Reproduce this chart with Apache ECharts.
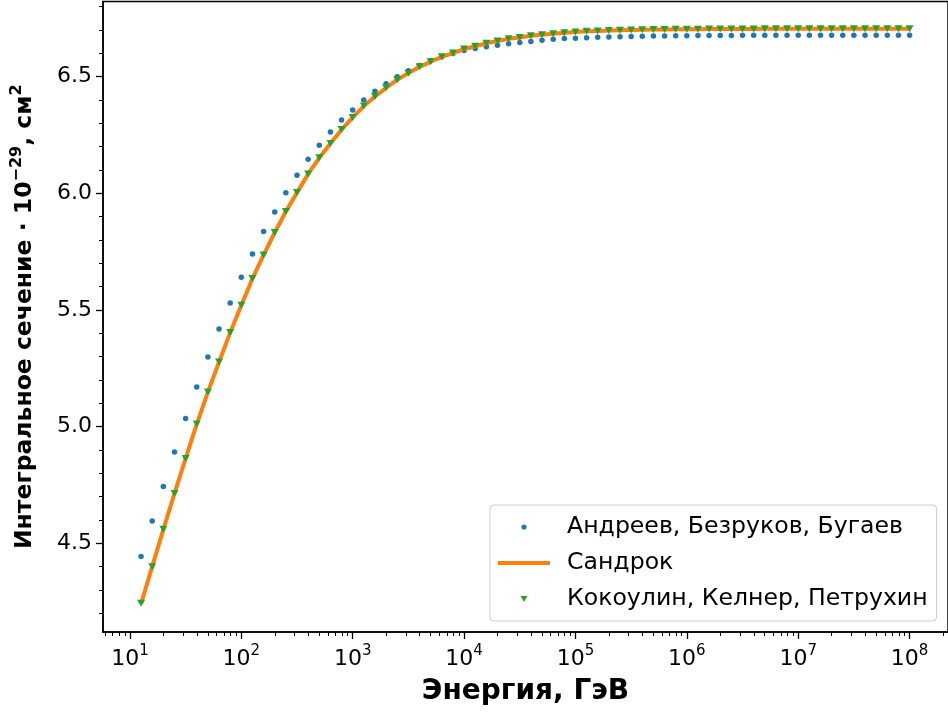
<!DOCTYPE html>
<html>
<head>
<meta charset="utf-8">
<script src="https://cdn.jsdelivr.net/npm/echarts@6/dist/echarts.min.js"></script>
<style>
html,body{margin:0;padding:0;background:#fff;}
#chart{width:948px;height:718px;}
</style>
</head>
<body>
<div id="chart"></div>
<script>
// Energies, GeV (10 points per decade)
var energy = [
  12.59, 15.85, 19.95, 25.12, 31.62, 39.81, 50.12, 63.10, 79.43, 100,
  125.9, 158.5, 199.5, 251.2, 316.2, 398.1, 501.2, 631.0, 794.3, 1000,
  1259, 1585, 1995, 2512, 3162, 3981, 5012, 6310, 7943, 10000,
  12590, 15850, 19950, 25120, 31620, 39810, 50120, 63100, 79430, 100000,
  125900, 158500, 199500, 251200, 316200, 398100, 501200, 631000, 794300, 1000000,
  1259000, 1585000, 1995000, 2512000, 3162000, 3981000, 5012000, 6310000, 7943000, 10000000,
  12590000, 15850000, 19950000, 25120000, 31620000, 39810000, 50120000, 63100000, 79430000, 100000000
];
// Андреев, Безруков, Бугаев
var abb = [
  4.444, 4.596, 4.744, 4.891, 5.035, 5.170, 5.299, 5.419, 5.530, 5.640,
  5.740, 5.836, 5.920, 6.002, 6.077, 6.146, 6.206, 6.263, 6.314, 6.357,
  6.400, 6.437, 6.469, 6.499, 6.525, 6.548, 6.568, 6.585, 6.599, 6.612,
  6.621, 6.628, 6.635, 6.641, 6.646, 6.651, 6.656, 6.660, 6.663, 6.665,
  6.667, 6.669, 6.670, 6.671, 6.672, 6.673, 6.674, 6.674, 6.675, 6.675,
  6.676, 6.676, 6.676, 6.676, 6.677, 6.677, 6.677, 6.677, 6.677, 6.677,
  6.677, 6.677, 6.677, 6.677, 6.677, 6.677, 6.677, 6.677, 6.677, 6.677
];
// Сандрок
var sandrock = [
  4.243, 4.400, 4.560, 4.714, 4.864, 5.011, 5.149, 5.277, 5.403, 5.520,
  5.635, 5.736, 5.832, 5.922, 6.003, 6.083, 6.152, 6.213, 6.273, 6.325,
  6.374, 6.415, 6.452, 6.487, 6.515, 6.542, 6.564, 6.585, 6.601, 6.618,
  6.630, 6.643, 6.653, 6.662, 6.668, 6.675, 6.680, 6.684, 6.688, 6.691,
  6.694, 6.696, 6.698, 6.699, 6.700, 6.701, 6.702, 6.702, 6.703, 6.703,
  6.703, 6.704, 6.704, 6.704, 6.704, 6.704, 6.705, 6.705, 6.705, 6.705,
  6.705, 6.705, 6.705, 6.705, 6.705, 6.705, 6.705, 6.705, 6.705, 6.705
];
// Кокоулин, Келнер, Петрухин
var kkp = [
  4.243, 4.400, 4.560, 4.714, 4.864, 5.011, 5.149, 5.277, 5.403, 5.520,
  5.635, 5.736, 5.832, 5.922, 6.003, 6.083, 6.152, 6.213, 6.273, 6.325,
  6.374, 6.415, 6.452, 6.487, 6.515, 6.542, 6.564, 6.585, 6.601, 6.618,
  6.630, 6.643, 6.653, 6.662, 6.668, 6.675, 6.680, 6.684, 6.688, 6.691,
  6.694, 6.696, 6.698, 6.699, 6.700, 6.701, 6.702, 6.702, 6.703, 6.703,
  6.703, 6.704, 6.704, 6.704, 6.704, 6.704, 6.705, 6.705, 6.705, 6.705,
  6.705, 6.705, 6.705, 6.705, 6.705, 6.705, 6.705, 6.705, 6.705, 6.705
];
var seriesNames = ['Андреев, Безруков, Бугаев', 'Сандрок', 'Кокоулин, Келнер, Петрухин'];
var xTickValues = [10, 100, 1000, 10000, 100000, 1000000, 10000000, 100000000];
var xTickExponents = ['1', '2', '3', '4', '5', '6', '7', '8'];
var yTickValues = [4.5, 5.0, 5.5, 6.0, 6.5];
var yTickLabels = ['4.5', '5.0', '5.5', '6.0', '6.5'];
var xTitle = 'Энергия, ГэВ';

var xMin = 5.73, xMax = 2.213e8;
var yMin = 4.120, yMax = 6.822;

// minor tick positions (axis decoration)
var xMinor = [];
for (var k = 0; k <= 8; k++) {
  for (var m = 2; m <= 9; m++) {
    var v = m * Math.pow(10, k);
    if (v > xMin && v < xMax) xMinor.push(v);
  }
}
var yMinor = [];
for (var t = 42; t <= 68; t++) {
  if (t % 5 !== 0) yMinor.push(t / 10);
}

function zip(xs, ys) { return xs.map(function (x, i) { return [x, ys[i]]; }); }

var FONT = 'DejaVu Sans';
var chart = echarts.init(document.getElementById('chart'), null, {renderer: 'canvas'});
var option = {
  animation: false,
  backgroundColor: '#ffffff',
  grid: {
    left: 103, top: 1.5, width: 847.5, height: 630.5,
    show: true, borderColor: '#000', borderWidth: 1.5, backgroundColor: 'transparent'
  },
  xAxis: [{
    type: 'log', logBase: 10, min: xMin, max: xMax,
    gridIndex: 0, position: 'bottom',
    name: xTitle, nameLocation: 'middle', nameGap: 46,
    nameTextStyle: {fontFamily: FONT, fontWeight: 'bold', fontSize: 28, color: '#000'},
    axisLine: {show: true, lineStyle: {color: '#000', width: 1.5}},
    splitLine: {show: false},
    minorTick: {show: false},
    axisTick: {show: true, inside: false, length: 7, lineStyle: {color: '#000', width: 1.3}, customValues: xTickValues},
    axisLabel: {
      show: true, margin: 10, customValues: xTickValues,
      fontFamily: FONT, color: '#000',
      formatter: function (val) {
        var idx = 0, best = Infinity;
        for (var i = 0; i < xTickValues.length; i++) {
          var d = Math.abs(Math.log10(val) - Math.log10(xTickValues[i]));
          if (d < best) { best = d; idx = i; }
        }
        return '{b|10}{s|' + xTickExponents[idx] + '}';
      },
      rich: {
        b: {fontFamily: FONT, fontSize: 22, color: '#000', verticalAlign: 'bottom', lineHeight: 28},
        s: {fontFamily: FONT, fontSize: 15, color: '#000', verticalAlign: 'bottom', lineHeight: 28, padding: [0, 0, 11, 0]}
      }
    }
  }, {
    type: 'log', logBase: 10, min: xMin, max: xMax,
    gridIndex: 0, position: 'bottom',
    axisLine: {show: false},
    splitLine: {show: false},
    axisLabel: {show: false},
    axisTick: {show: true, inside: false, length: 4, lineStyle: {color: '#000', width: 1}, customValues: xMinor}
  }],
  yAxis: [{
    type: 'value', min: yMin, max: yMax, gridIndex: 0, position: 'left',
    name: '{t|Интегральное сечение · 10}{s|−29}{t|, см}{s|2}',
    nameLocation: 'middle', nameGap: 66, nameRotate: 90,
    nameTextStyle: {
      fontFamily: FONT, color: '#000',
      rich: {
        t: {fontFamily: FONT, fontWeight: 'bold', fontSize: 23.5, color: '#000', verticalAlign: 'bottom', lineHeight: 30},
        s: {fontFamily: FONT, fontWeight: 'bold', fontSize: 16, color: '#000', verticalAlign: 'bottom', lineHeight: 30, padding: [0, 0, 12, 0]}
      }
    },
    axisLine: {show: true, lineStyle: {color: '#000', width: 1.5}},
    splitLine: {show: false},
    axisTick: {show: true, inside: false, length: 7, lineStyle: {color: '#000', width: 1.3}, customValues: yTickValues},
    axisLabel: {
      show: true, margin: 11, customValues: yTickValues,
      fontFamily: FONT, fontSize: 22, color: '#000',
      formatter: function (val) {
        var idx = 0, best = Infinity;
        for (var i = 0; i < yTickValues.length; i++) {
          var d = Math.abs(val - yTickValues[i]);
          if (d < best) { best = d; idx = i; }
        }
        return yTickLabels[idx];
      }
    }
  }, {
    type: 'value', min: yMin, max: yMax, gridIndex: 0, position: 'left',
    axisLine: {show: false},
    splitLine: {show: false},
    axisLabel: {show: false},
    axisTick: {show: true, inside: false, length: 4, lineStyle: {color: '#000', width: 1}, customValues: yMinor}
  }],
  legend: {
    orient: 'vertical',
    left: 490, top: 505,
    padding: [10, 9, 10, 8],
    itemGap: 12,
    itemWidth: 64, itemHeight: 14,
    symbolKeepAspect: true,
    backgroundColor: 'rgba(255,255,255,0.8)',
    borderColor: '#cccccc', borderWidth: 1, borderRadius: 4,
    textStyle: {fontFamily: FONT, fontSize: 23.6, lineHeight: 24, color: '#000', padding: [0, 0, 0, 0]},
    itemStyle: {borderWidth: 0},
    data: [
      {name: seriesNames[0], icon: 'path://M0 0 M64 14 M28.6 7 A2.6 2.6 0 1 1 23.4 7 A2.6 2.6 0 1 1 28.6 7 Z'},
      {name: seriesNames[1], icon: 'path://M0 0 M64 14 M0 5 L52 5 L52 9 L0 9 Z'},
      {name: seriesNames[2], icon: 'path://M0 0 M64 14 M22.5 4 L29.5 4 L26 10 Z'}
    ]
  },
  series: [{
    name: seriesNames[0], type: 'scatter', xAxisIndex: 0, yAxisIndex: 0,
    data: zip(energy, abb),
    symbol: 'circle', symbolSize: 5.5,
    itemStyle: {color: '#1f77b4', opacity: 1}, z: 2
  }, {
    name: seriesNames[1], type: 'line', xAxisIndex: 0, yAxisIndex: 0,
    data: zip(energy, sandrock),
    showSymbol: false, symbol: 'none',
    lineStyle: {color: '#ff7f0e', width: 4},
    itemStyle: {color: '#ff7f0e'}, z: 3
  }, {
    name: seriesNames[2], type: 'scatter', xAxisIndex: 0, yAxisIndex: 0,
    data: zip(energy, kkp),
    symbol: 'triangle', symbolRotate: 180, symbolSize: [8, 7],
    itemStyle: {color: '#2ca02c', opacity: 1}, z: 4
  }]
};
chart.setOption(option);
</script>
</body>
</html>
